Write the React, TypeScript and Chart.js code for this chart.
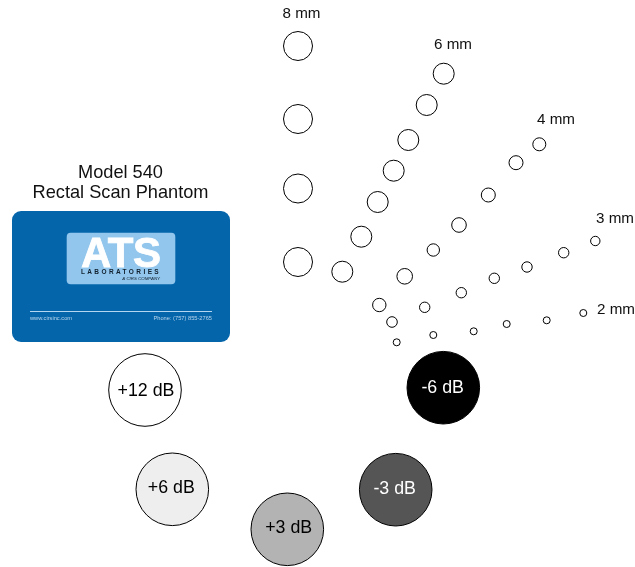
import React, { useEffect, useRef } from "react";
import { Chart, registerables } from "chart.js";

Chart.register(...registerables);

const mm8X = [298, 298, 298, 298];
const mm8Y = [46, 119, 188.5, 262];
const mm8R = [14.5, 14.5, 14.5, 14.5];

const mm6X = [443.7, 426.7, 408.3, 393.7, 377.7, 361.3, 342.3];
const mm6Y = [73.7, 105, 140, 170.7, 202, 236.7, 271.7];
const mm6R = [10.5, 10.5, 10.5, 10.5, 10.5, 10.5, 10.5];

const mm4X = [539.3, 516, 488.3, 459, 433.3, 404.7, 379.3, 392];
const mm4Y = [144.3, 162.7, 195, 225, 250, 276.3, 305, 322];
const mm4R = [6.5, 7, 7, 7.3, 6.2, 7.8, 6.7, 5.3];

const mm3X = [595.3, 563.7, 527, 494.3, 461.3, 424.7];
const mm3Y = [241, 252.7, 267, 278.3, 292.7, 307.3];
const mm3R = [4.7, 5.2, 5.2, 5.2, 5.2, 5.2];

const mm2X = [583.3, 546.7, 506.7, 473.7, 433.3, 396.7];
const mm2Y = [313, 320.3, 324, 331.3, 335, 342.3];
const mm2R = [3.5, 3.5, 3.5, 3.5, 3.5, 3.5];

const dbLabels = ["+12 dB", "+6 dB", "+3 dB", "-3 dB", "-6 dB"];
const dbX = [145, 172.3, 287.3, 395.7, 443.3];
const dbY = [390, 489.3, 529.3, 489.7, 387.7];
const dbR = [36.3, 36.3, 36.3, 36.3, 36.3];
const dbFill = ["#ffffff", "#eeeeee", "#b3b3b3", "#555555", "#000000"];
const dbText = ["#000000", "#000000", "#000000", "#ffffff", "#ffffff"];
const dbLabelX = [146, 171.3, 288.7, 394.7, 442.7];
const dbLabelY = [391.5, 488.5, 528, 489.5, 388.5];

const sizeLabels = ["8 mm", "6 mm", "4 mm", "3 mm", "2 mm"];
const sizeLabelX = [301.5, 453, 556, 615, 616];
const sizeLabelY = [13.5, 45, 120, 219, 309.5];

const titleLines = ["Model 540", "Rectal Scan Phantom"];
const titleX = [120.5, 120.5];
const titleY = [172.5, 192.5];

const zip = (xs: number[], ys: number[], rs: number[]) =>
  xs.map((x, i) => ({ x, y: ys[i], r: rs[i] }));

const FONT = '"Liberation Sans", Arial, sans-serif';

const artPlugin = {
  id: "art",
  afterDatasetsDraw(chart: any) {
    const { ctx, scales } = chart;
    const X = (v: number) => scales.x.getPixelForValue(v);
    const Y = (v: number) => scales.y.getPixelForValue(v);
    ctx.save();
    ctx.textAlign = "center";
    ctx.textBaseline = "middle";

    // Title
    ctx.fillStyle = "#111111";
    ctx.font = `18.2px ${FONT}`;
    titleLines.forEach((t, i) => ctx.fillText(t, X(titleX[i]), Y(titleY[i])));

    // Size labels
    ctx.font = `15.2px ${FONT}`;
    sizeLabels.forEach((t, i) => ctx.fillText(t, X(sizeLabelX[i]), Y(sizeLabelY[i])));

    // dB labels
    ctx.font = `17.8px ${FONT}`;
    dbLabels.forEach((t, i) => {
      ctx.fillStyle = dbText[i];
      ctx.fillText(t, X(dbLabelX[i]), Y(dbLabelY[i]));
    });

    // Card
    ctx.fillStyle = "#0565ab";
    ctx.beginPath();
    ctx.roundRect(X(12), Y(211), 218, 131, 9);
    ctx.fill();
    ctx.fillStyle = "#93c6ec";
    ctx.beginPath();
    ctx.roundRect(X(66.7), Y(232.7), 108.6, 51.6, 4);
    ctx.fill();

    // Logo
    ctx.fillStyle = "#ffffff";
    ctx.strokeStyle = "#ffffff";
    ctx.lineWidth = 0.8;
    ctx.font = `bold 42px ${FONT}`;
    ctx.letterSpacing = "-0.5px";
    ctx.textBaseline = "alphabetic";
    ctx.fillText("ATS", X(120.8), Y(267));
    ctx.strokeText("ATS", X(120.8), Y(267));
    ctx.textBaseline = "middle";
    ctx.letterSpacing = "2.4px";
    ctx.font = `bold 6.5px ${FONT}`;
    ctx.fillStyle = "#10202e";
    ctx.fillText("LABORATORIES", X(121), Y(272.5));
    ctx.letterSpacing = "0px";
    ctx.font = `italic 4.4px ${FONT}`;
    ctx.textAlign = "right";
    ctx.fillText("A CIRS COMPANY", X(160), Y(278.4));

    // Footer
    ctx.fillStyle = "#b4d6f0";
    ctx.fillRect(X(30), Y(311), 182, 1);
    ctx.font = `5.7px ${FONT}`;
    ctx.fillStyle = "#b7d4ea";
    ctx.textAlign = "left";
    ctx.fillText("www.cirsinc.com", X(30), Y(318));
    ctx.textAlign = "right";
    ctx.fillText("Phone: (757) 855-2765", X(212), Y(318));
    ctx.restore();
  },
};

export default function App() {
  const ref = useRef<HTMLCanvasElement>(null);
  useEffect(() => {
    const ring = (label: string, xs: number[], ys: number[], rs: number[]) => ({
      label,
      data: zip(xs, ys, rs),
      backgroundColor: "rgba(255,255,255,0)",
      borderColor: "#000000",
      borderWidth: 1,
      clip: false,
    });
    const chart = new Chart(ref.current!, {
      type: "bubble",
      data: {
        datasets: [
          ring("8 mm", mm8X, mm8Y, mm8R),
          ring("6 mm", mm6X, mm6Y, mm6R),
          ring("4 mm", mm4X, mm4Y, mm4R),
          ring("3 mm", mm3X, mm3Y, mm3R),
          ring("2 mm", mm2X, mm2Y, mm2R),
          {
            label: "Contrast",
            data: zip(dbX, dbY, dbR),
            backgroundColor: dbFill,
            borderColor: "#000000",
            borderWidth: 1,
            clip: false,
          },
        ],
      },
      options: {
        animation: false,
        responsive: false,
        devicePixelRatio: 1,
        layout: { padding: 0, autoPadding: false },
        scales: {
          x: { type: "linear", min: 0, max: 635, display: false },
          y: { type: "linear", min: 0, max: 567, reverse: true, display: false },
        },
        plugins: { legend: { display: false }, tooltip: { enabled: false } },
      },
      plugins: [artPlugin],
    } as any);
    return () => chart.destroy();
  }, []);
  return (
    <div style={{ position: "absolute", left: 0, top: 0, width: 635, height: 567, background: "#fff" }}>
      <canvas ref={ref} width={635} height={567} style={{ display: "block" }} />
    </div>
  );
}
